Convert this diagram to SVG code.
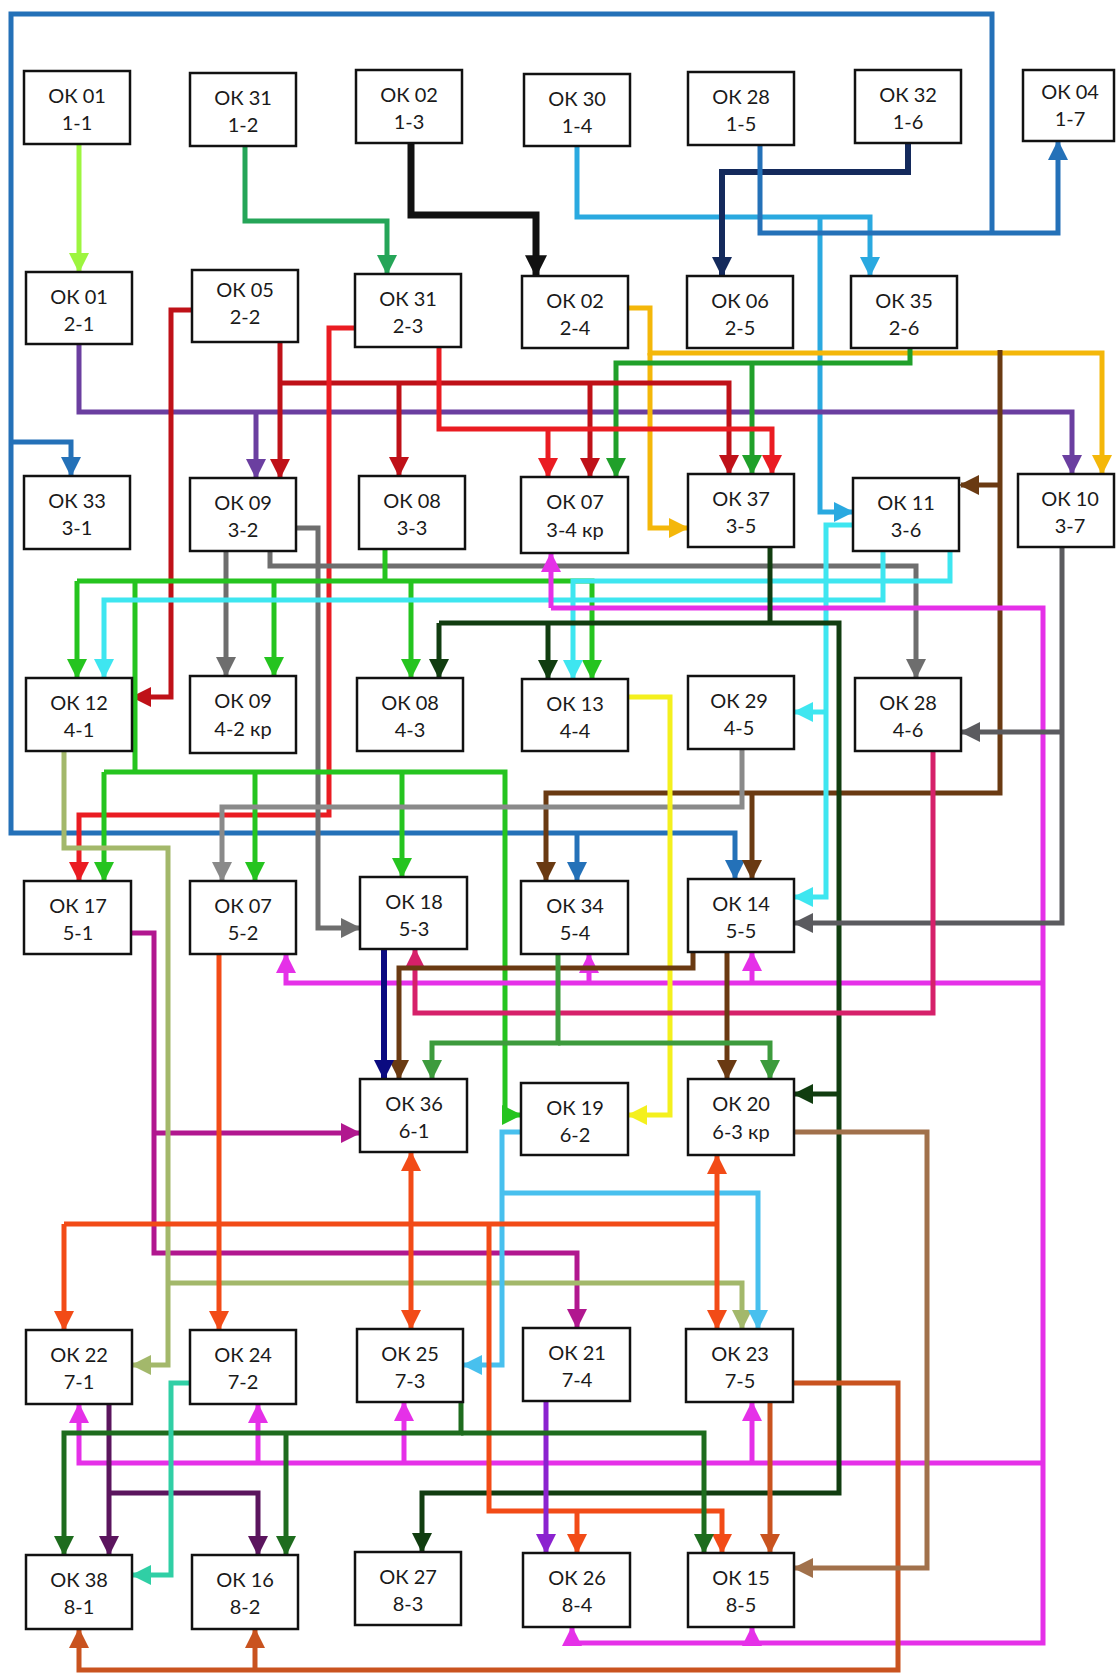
<svg xmlns="http://www.w3.org/2000/svg" width="1116" height="1673" viewBox="0 0 1116 1673">
<style>
.box{fill:#fff;stroke:#111;stroke-width:2.5}
text{font-family:Lato,"Noto Sans",sans-serif;font-size:20px;text-anchor:middle;fill:#1a1a1a}
#connectors path{fill:none;stroke-width:5}
.c1{stroke:#9df53f}.c1.a{marker-end:url(#m1)}
.c2{stroke:#25a558}.c2.a{marker-end:url(#m2)}
.c3{stroke:#111;stroke-width:7!important}.c3.a{marker-end:url(#m3)}
.c4{stroke:#142a5c;stroke-width:6!important}.c4.a{marker-end:url(#m4)}
.c5{stroke:#2aa9e0}.c5.a{marker-end:url(#m5)}
.c6{stroke:#2471b8}.c6.a{marker-end:url(#m6)}
.c7{stroke:#6b3fa0}.c7.a{marker-end:url(#m7)}
.c8{stroke:#bf1118}.c8.a{marker-end:url(#m8)}
.c9{stroke:#ea1c22}.c9.a{marker-end:url(#m9)}
.c10{stroke:#f4b70a}.c10.a{marker-end:url(#m10)}
.c11{stroke:#20a02a}.c11.a{marker-end:url(#m11)}
.c12{stroke:#6a3a12}.c12.a{marker-end:url(#m12)}
.c13{stroke:#6e6e6e}.c13.a{marker-end:url(#m13)}
.c14{stroke:#25c41f}.c14.a{marker-end:url(#m14)}
.c15{stroke:#3ee6f0}.c15.a{marker-end:url(#m15)}
.c16{stroke:#e530e8}.c16.a{marker-end:url(#m16)}
.c17{stroke:#d6216a}.c17.a{marker-end:url(#m17)}
.c18{stroke:#113d10}.c18.a{marker-end:url(#m18)}
.c19{stroke:#3d9b3d}.c19.a{marker-end:url(#m19)}
.c21{stroke:#8a8a8a}.c21.a{marker-end:url(#m21)}
.c22{stroke:#5b5b5f}.c22.a{marker-end:url(#m22)}
.c23{stroke:#f4f01e}.c23.a{marker-end:url(#m23)}
.c24{stroke:#0b0b80;stroke-width:6!important}.c24.a{marker-end:url(#m24)}
.c25{stroke:#b1178f}.c25.a{marker-end:url(#m25)}
.c26{stroke:#a3b86b}.c26.a{marker-end:url(#m26)}
.c27{stroke:#48c0ee}.c27.a{marker-end:url(#m27)}
.c28{stroke:#f24b17}.c28.a{marker-end:url(#m28)}
.c29{stroke:#8b22cf}.c29.a{marker-end:url(#m29)}
.c30{stroke:#5b155e}.c30.a{marker-end:url(#m30)}
.c31{stroke:#1e6c1e}.c31.a{marker-end:url(#m31)}
.c32{stroke:#30cfa5}.c32.a{marker-end:url(#m32)}
.c33{stroke:#c9531f}.c33.a{marker-end:url(#m33)}
.c34{stroke:#a1714b}.c34.a{marker-end:url(#m34)}
</style>
<defs>
<path id="ah" d="M0,0 L10,5 L0,10 Z"/>
<marker id="m1" viewBox="0 0 10 10" refX="9" refY="5" markerWidth="20" markerHeight="20" markerUnits="userSpaceOnUse" orient="auto"><use href="#ah" fill="#9df53f"/></marker>
<marker id="m2" viewBox="0 0 10 10" refX="9" refY="5" markerWidth="20" markerHeight="20" markerUnits="userSpaceOnUse" orient="auto"><use href="#ah" fill="#25a558"/></marker>
<marker id="m3" viewBox="0 0 10 10" refX="9" refY="5" markerWidth="22" markerHeight="22" markerUnits="userSpaceOnUse" orient="auto"><use href="#ah" fill="#111"/></marker>
<marker id="m4" viewBox="0 0 10 10" refX="9" refY="5" markerWidth="20" markerHeight="20" markerUnits="userSpaceOnUse" orient="auto"><use href="#ah" fill="#142a5c"/></marker>
<marker id="m5" viewBox="0 0 10 10" refX="9" refY="5" markerWidth="20" markerHeight="20" markerUnits="userSpaceOnUse" orient="auto"><use href="#ah" fill="#2aa9e0"/></marker>
<marker id="m6" viewBox="0 0 10 10" refX="9" refY="5" markerWidth="20" markerHeight="20" markerUnits="userSpaceOnUse" orient="auto"><use href="#ah" fill="#2471b8"/></marker>
<marker id="m7" viewBox="0 0 10 10" refX="9" refY="5" markerWidth="20" markerHeight="20" markerUnits="userSpaceOnUse" orient="auto"><use href="#ah" fill="#6b3fa0"/></marker>
<marker id="m8" viewBox="0 0 10 10" refX="9" refY="5" markerWidth="20" markerHeight="20" markerUnits="userSpaceOnUse" orient="auto"><use href="#ah" fill="#bf1118"/></marker>
<marker id="m9" viewBox="0 0 10 10" refX="9" refY="5" markerWidth="20" markerHeight="20" markerUnits="userSpaceOnUse" orient="auto"><use href="#ah" fill="#ea1c22"/></marker>
<marker id="m10" viewBox="0 0 10 10" refX="9" refY="5" markerWidth="20" markerHeight="20" markerUnits="userSpaceOnUse" orient="auto"><use href="#ah" fill="#f4b70a"/></marker>
<marker id="m11" viewBox="0 0 10 10" refX="9" refY="5" markerWidth="20" markerHeight="20" markerUnits="userSpaceOnUse" orient="auto"><use href="#ah" fill="#20a02a"/></marker>
<marker id="m12" viewBox="0 0 10 10" refX="9" refY="5" markerWidth="20" markerHeight="20" markerUnits="userSpaceOnUse" orient="auto"><use href="#ah" fill="#6a3a12"/></marker>
<marker id="m13" viewBox="0 0 10 10" refX="9" refY="5" markerWidth="20" markerHeight="20" markerUnits="userSpaceOnUse" orient="auto"><use href="#ah" fill="#6e6e6e"/></marker>
<marker id="m14" viewBox="0 0 10 10" refX="9" refY="5" markerWidth="20" markerHeight="20" markerUnits="userSpaceOnUse" orient="auto"><use href="#ah" fill="#25c41f"/></marker>
<marker id="m15" viewBox="0 0 10 10" refX="9" refY="5" markerWidth="20" markerHeight="20" markerUnits="userSpaceOnUse" orient="auto"><use href="#ah" fill="#3ee6f0"/></marker>
<marker id="m16" viewBox="0 0 10 10" refX="9" refY="5" markerWidth="20" markerHeight="20" markerUnits="userSpaceOnUse" orient="auto"><use href="#ah" fill="#e530e8"/></marker>
<marker id="m17" viewBox="0 0 10 10" refX="9" refY="5" markerWidth="20" markerHeight="20" markerUnits="userSpaceOnUse" orient="auto"><use href="#ah" fill="#d6216a"/></marker>
<marker id="m18" viewBox="0 0 10 10" refX="9" refY="5" markerWidth="20" markerHeight="20" markerUnits="userSpaceOnUse" orient="auto"><use href="#ah" fill="#113d10"/></marker>
<marker id="m19" viewBox="0 0 10 10" refX="9" refY="5" markerWidth="20" markerHeight="20" markerUnits="userSpaceOnUse" orient="auto"><use href="#ah" fill="#3d9b3d"/></marker>
<marker id="m21" viewBox="0 0 10 10" refX="9" refY="5" markerWidth="20" markerHeight="20" markerUnits="userSpaceOnUse" orient="auto"><use href="#ah" fill="#8a8a8a"/></marker>
<marker id="m22" viewBox="0 0 10 10" refX="9" refY="5" markerWidth="20" markerHeight="20" markerUnits="userSpaceOnUse" orient="auto"><use href="#ah" fill="#5b5b5f"/></marker>
<marker id="m23" viewBox="0 0 10 10" refX="9" refY="5" markerWidth="20" markerHeight="20" markerUnits="userSpaceOnUse" orient="auto"><use href="#ah" fill="#f4f01e"/></marker>
<marker id="m24" viewBox="0 0 10 10" refX="9" refY="5" markerWidth="20" markerHeight="20" markerUnits="userSpaceOnUse" orient="auto"><use href="#ah" fill="#0b0b80"/></marker>
<marker id="m25" viewBox="0 0 10 10" refX="9" refY="5" markerWidth="20" markerHeight="20" markerUnits="userSpaceOnUse" orient="auto"><use href="#ah" fill="#b1178f"/></marker>
<marker id="m26" viewBox="0 0 10 10" refX="9" refY="5" markerWidth="20" markerHeight="20" markerUnits="userSpaceOnUse" orient="auto"><use href="#ah" fill="#a3b86b"/></marker>
<marker id="m27" viewBox="0 0 10 10" refX="9" refY="5" markerWidth="20" markerHeight="20" markerUnits="userSpaceOnUse" orient="auto"><use href="#ah" fill="#48c0ee"/></marker>
<marker id="m28" viewBox="0 0 10 10" refX="9" refY="5" markerWidth="20" markerHeight="20" markerUnits="userSpaceOnUse" orient="auto"><use href="#ah" fill="#f24b17"/></marker>
<marker id="m29" viewBox="0 0 10 10" refX="9" refY="5" markerWidth="20" markerHeight="20" markerUnits="userSpaceOnUse" orient="auto"><use href="#ah" fill="#8b22cf"/></marker>
<marker id="m30" viewBox="0 0 10 10" refX="9" refY="5" markerWidth="20" markerHeight="20" markerUnits="userSpaceOnUse" orient="auto"><use href="#ah" fill="#5b155e"/></marker>
<marker id="m31" viewBox="0 0 10 10" refX="9" refY="5" markerWidth="20" markerHeight="20" markerUnits="userSpaceOnUse" orient="auto"><use href="#ah" fill="#1e6c1e"/></marker>
<marker id="m32" viewBox="0 0 10 10" refX="9" refY="5" markerWidth="20" markerHeight="20" markerUnits="userSpaceOnUse" orient="auto"><use href="#ah" fill="#30cfa5"/></marker>
<marker id="m33" viewBox="0 0 10 10" refX="9" refY="5" markerWidth="20" markerHeight="20" markerUnits="userSpaceOnUse" orient="auto"><use href="#ah" fill="#c9531f"/></marker>
<marker id="m34" viewBox="0 0 10 10" refX="9" refY="5" markerWidth="20" markerHeight="20" markerUnits="userSpaceOnUse" orient="auto"><use href="#ah" fill="#a1714b"/></marker>
</defs>
<rect width="1116" height="1673" fill="#fff"/>
<g id="connectors">
<path class="c1 a" d="M79,144 V271"/>
<path class="c2 a" d="M245,146 V221 H387 V273"/>
<path class="c3 a" d="M411,143 V215 H536 V275"/>
<path class="c5 a" d="M577,146 V217 H870 V275"/>
<path class="c5 a" d="M820,217 V512 H852"/>
<path class="c4 a" d="M908,143 V172 H722 V275"/>
<path class="c6 a" d="M760,145 V233 H1058 V142"/>
<path class="c6 a" d="M992,233 V14 H11 V833 H735 V878"/>
<path class="c6 a" d="M11,442 H71 V475"/>
<path class="c6 a" d="M577,833 V880"/>
<path class="c7 a" d="M79,344 V412 H1072 V473"/>
<path class="c7 a" d="M256,412 V477"/>
<path class="c10 a" d="M628,308 H650 V353 H1102 V473"/>
<path class="c10 a" d="M650,353 V528 H687"/>
<path class="c11 a" d="M910,348 V363 H616 V476"/>
<path class="c11 a" d="M752,363 V473"/>
<path class="c8 a" d="M280,342 V477"/>
<path class="c8 a" d="M280,383 H729 V473"/>
<path class="c8 a" d="M399,383 V475"/>
<path class="c8 a" d="M590,383 V476"/>
<path class="c8 a" d="M192,310 H171 V697 H133"/>
<path class="c9 a" d="M355,328 H329 V815 H79 V880"/>
<path class="c9 a" d="M439,347 V429 H772 V473"/>
<path class="c9 a" d="M548,429 V476"/>
<path class="c12 a" d="M1000,350 V793 H546 V880"/>
<path class="c12 a" d="M1000,485 H961"/>
<path class="c12 a" d="M752,793 V878"/>
<path class="c13 a" d="M296,528 H318 V928 H359"/>
<path class="c13 a" d="M226,551 V675"/>
<path class="c13 a" d="M270,551 V566 H916 V677"/>
<path class="c14" d="M385,549 V581"/>
<path class="c14 a" d="M77,581 H592 V678"/>
<path class="c14 a" d="M77,581 V677"/>
<path class="c14" d="M135,581 V772"/>
<path class="c14 a" d="M274,581 V675"/>
<path class="c14 a" d="M411,581 V677"/>
<path class="c14 a" d="M104,772 H505 V1115 H520"/>
<path class="c14 a" d="M104,772 V880"/>
<path class="c14 a" d="M255,772 V880"/>
<path class="c14 a" d="M402,772 V876"/>
<path class="c15 a" d="M883,551 V600 H104 V677"/>
<path class="c15 a" d="M950,551 V581 H573 V678"/>
<path class="c15 a" d="M853,525 H826 V897 H795"/>
<path class="c15 a" d="M826,712 H795"/>
<path class="c16 a" d="M551,608 V554"/>
<path class="c16 a" d="M551,608 H1043 V1643 H572 V1628"/>
<path class="c16 a" d="M1043,983 H286 V955"/>
<path class="c16 a" d="M589,983 V955"/>
<path class="c16 a" d="M752,983 V953"/>
<path class="c16 a" d="M1043,1463 H79 V1405"/>
<path class="c16 a" d="M258,1463 V1405"/>
<path class="c16 a" d="M404,1463 V1403"/>
<path class="c16 a" d="M752,1463 V1403"/>
<path class="c16 a" d="M752,1643 V1628"/>
<path class="c18" d="M770,547 V623"/>
<path class="c18 a" d="M439,623 H839 V1493 H422 V1551"/>
<path class="c18 a" d="M439,623 V677"/>
<path class="c18 a" d="M548,623 V678"/>
<path class="c18 a" d="M839,1094 H795"/>
<path class="c21 a" d="M742,749 V807 H222 V880"/>
<path class="c22 a" d="M1062,547 V923 H795"/>
<path class="c22 a" d="M1062,732 H962"/>
<path class="c23 a" d="M628,697 H670 V1115 H629"/>
<path class="c17 a" d="M933,751 V1013 H415 V950"/>
<path class="c12 a" d="M693,952 V968 H399 V1078"/>
<path class="c12 a" d="M727,952 V1078"/>
<path class="c19 a" d="M558,954 V1043 H432 V1078"/>
<path class="c19 a" d="M558,1043 H770 V1078"/>
<path class="c24 a" d="M384,949 V1078"/>
<path class="c25 a" d="M131,933 H154 V1253 H577 V1327"/>
<path class="c25 a" d="M154,1133 H359"/>
<path class="c26 a" d="M64,751 V848 H168 V1365 H133"/>
<path class="c26 a" d="M168,1283 H742 V1328"/>
<path class="c27 a" d="M521,1132 H502 V1365 H464"/>
<path class="c27 a" d="M502,1193 H758 V1328"/>
<path class="c28 a" d="M219,954 V1329"/>
<path class="c28" d="M64,1224 H717"/>
<path class="c28 a" d="M64,1224 V1329"/>
<path class="c28 a" d="M411,1224 V1153"/>
<path class="c28 a" d="M411,1224 V1328"/>
<path class="c28 a" d="M717,1224 V1156"/>
<path class="c28 a" d="M717,1224 V1328"/>
<path class="c28 a" d="M489,1224 V1511 H722 V1552"/>
<path class="c28 a" d="M577,1511 V1552"/>
<path class="c29 a" d="M546,1401 V1552"/>
<path class="c30 a" d="M109,1404 V1554"/>
<path class="c30 a" d="M109,1493 H258 V1554"/>
<path class="c31 a" d="M461,1402 V1433 H64 V1554"/>
<path class="c31 a" d="M461,1433 H704 V1552"/>
<path class="c31 a" d="M286,1433 V1554"/>
<path class="c32 a" d="M190,1383 H171 V1575 H133"/>
<path class="c33 a" d="M793,1383 H898 V1670 H79 V1630"/>
<path class="c33 a" d="M255,1670 V1630"/>
<path class="c33 a" d="M770,1402 V1552"/>
<path class="c34 a" d="M794,1132 H927 V1568 H795"/>
</g>
<g id="n-ok01-1-1"><rect class="box" x="24" y="71" width="106" height="73"/><text x="77" y="103">ОК 01</text><text x="77" y="130">1-1</text></g>
<g id="n-ok31-1-2"><rect class="box" x="190" y="73" width="106" height="73"/><text x="243" y="105">ОК 31</text><text x="243" y="132">1-2</text></g>
<g id="n-ok02-1-3"><rect class="box" x="356" y="70" width="106" height="73"/><text x="409" y="102">ОК 02</text><text x="409" y="129">1-3</text></g>
<g id="n-ok30-1-4"><rect class="box" x="524" y="74" width="106" height="72"/><text x="577" y="106">ОК 30</text><text x="577" y="133">1-4</text></g>
<g id="n-ok28-1-5"><rect class="box" x="688" y="72" width="106" height="73"/><text x="741" y="104">ОК 28</text><text x="741" y="131">1-5</text></g>
<g id="n-ok32-1-6"><rect class="box" x="855" y="70" width="106" height="73"/><text x="908" y="102">ОК 32</text><text x="908" y="129">1-6</text></g>
<g id="n-ok04-1-7"><rect class="box" x="1023" y="70" width="91" height="71"/><text x="1070" y="99">ОК 04</text><text x="1070" y="126">1-7</text></g>
<g id="n-ok01-2-1"><rect class="box" x="26" y="272" width="106" height="72"/><text x="79" y="304">ОК 01</text><text x="79" y="331">2-1</text></g>
<g id="n-ok05-2-2"><rect class="box" x="192" y="270" width="106" height="72"/><text x="245" y="297">ОК 05</text><text x="245" y="324">2-2</text></g>
<g id="n-ok31-2-3"><rect class="box" x="355" y="274" width="106" height="73"/><text x="408" y="306">ОК 31</text><text x="408" y="333">2-3</text></g>
<g id="n-ok02-2-4"><rect class="box" x="522" y="276" width="106" height="72"/><text x="575" y="308">ОК 02</text><text x="575" y="335">2-4</text></g>
<g id="n-ok06-2-5"><rect class="box" x="687" y="276" width="106" height="72"/><text x="740" y="308">ОК 06</text><text x="740" y="335">2-5</text></g>
<g id="n-ok35-2-6"><rect class="box" x="851" y="276" width="106" height="72"/><text x="904" y="308">ОК 35</text><text x="904" y="335">2-6</text></g>
<g id="n-ok33-3-1"><rect class="box" x="24" y="476" width="106" height="73"/><text x="77" y="508">ОК 33</text><text x="77" y="535">3-1</text></g>
<g id="n-ok09-3-2"><rect class="box" x="190" y="478" width="106" height="73"/><text x="243" y="510">ОК 09</text><text x="243" y="537">3-2</text></g>
<g id="n-ok08-3-3"><rect class="box" x="359" y="476" width="106" height="73"/><text x="412" y="508">ОК 08</text><text x="412" y="535">3-3</text></g>
<g id="n-ok07-3-4"><rect class="box" x="521" y="477" width="107" height="76"/><text x="575" y="509">ОК 07</text><text x="575" y="537">3-4 кр</text></g>
<g id="n-ok37-3-5"><rect class="box" x="688" y="474" width="106" height="73"/><text x="741" y="506">ОК 37</text><text x="741" y="533">3-5</text></g>
<g id="n-ok11-3-6"><rect class="box" x="853" y="478" width="106" height="73"/><text x="906" y="510">ОК 11</text><text x="906" y="537">3-6</text></g>
<g id="n-ok10-3-7"><rect class="box" x="1018" y="474" width="96" height="73"/><text x="1070" y="506">ОК 10</text><text x="1070" y="533">3-7</text></g>
<g id="n-ok12-4-1"><rect class="box" x="26" y="678" width="106" height="73"/><text x="79" y="710">ОК 12</text><text x="79" y="737">4-1</text></g>
<g id="n-ok09-4-2"><rect class="box" x="190" y="676" width="106" height="77"/><text x="243" y="708">ОК 09</text><text x="243" y="736">4-2 кр</text></g>
<g id="n-ok08-4-3"><rect class="box" x="357" y="678" width="106" height="73"/><text x="410" y="710">ОК 08</text><text x="410" y="737">4-3</text></g>
<g id="n-ok13-4-4"><rect class="box" x="522" y="679" width="106" height="72"/><text x="575" y="711">ОК 13</text><text x="575" y="738">4-4</text></g>
<g id="n-ok29-4-5"><rect class="box" x="688" y="676" width="106" height="73"/><text x="739" y="708">ОК 29</text><text x="739" y="735">4-5</text></g>
<g id="n-ok28-4-6"><rect class="box" x="855" y="678" width="106" height="73"/><text x="908" y="710">ОК 28</text><text x="908" y="737">4-6</text></g>
<g id="n-ok17-5-1"><rect class="box" x="24" y="881" width="107" height="73"/><text x="78" y="913">ОК 17</text><text x="78" y="940">5-1</text></g>
<g id="n-ok07-5-2"><rect class="box" x="190" y="881" width="106" height="73"/><text x="243" y="913">ОК 07</text><text x="243" y="940">5-2</text></g>
<g id="n-ok18-5-3"><rect class="box" x="360" y="877" width="107" height="72"/><text x="414" y="909">ОК 18</text><text x="414" y="936">5-3</text></g>
<g id="n-ok34-5-4"><rect class="box" x="521" y="881" width="107" height="73"/><text x="575" y="913">ОК 34</text><text x="575" y="940">5-4</text></g>
<g id="n-ok14-5-5"><rect class="box" x="688" y="879" width="106" height="73"/><text x="741" y="911">ОК 14</text><text x="741" y="938">5-5</text></g>
<g id="n-ok36-6-1"><rect class="box" x="360" y="1079" width="107" height="73"/><text x="414" y="1111">ОК 36</text><text x="414" y="1138">6-1</text></g>
<g id="n-ok19-6-2"><rect class="box" x="521" y="1083" width="107" height="72"/><text x="575" y="1115">ОК 19</text><text x="575" y="1142">6-2</text></g>
<g id="n-ok20-6-3"><rect class="box" x="688" y="1079" width="106" height="76"/><text x="741" y="1111">ОК 20</text><text x="741" y="1139">6-3 кр</text></g>
<g id="n-ok22-7-1"><rect class="box" x="26" y="1330" width="106" height="74"/><text x="79" y="1362">ОК 22</text><text x="79" y="1389">7-1</text></g>
<g id="n-ok24-7-2"><rect class="box" x="190" y="1330" width="106" height="74"/><text x="243" y="1362">ОК 24</text><text x="243" y="1389">7-2</text></g>
<g id="n-ok25-7-3"><rect class="box" x="357" y="1329" width="106" height="73"/><text x="410" y="1361">ОК 25</text><text x="410" y="1388">7-3</text></g>
<g id="n-ok21-7-4"><rect class="box" x="523" y="1328" width="107" height="73"/><text x="577" y="1360">ОК 21</text><text x="577" y="1387">7-4</text></g>
<g id="n-ok23-7-5"><rect class="box" x="686" y="1329" width="107" height="73"/><text x="740" y="1361">ОК 23</text><text x="740" y="1388">7-5</text></g>
<g id="n-ok38-8-1"><rect class="box" x="26" y="1555" width="106" height="74"/><text x="79" y="1587">ОК 38</text><text x="79" y="1614">8-1</text></g>
<g id="n-ok16-8-2"><rect class="box" x="192" y="1555" width="106" height="74"/><text x="245" y="1587">ОК 16</text><text x="245" y="1614">8-2</text></g>
<g id="n-ok27-8-3"><rect class="box" x="355" y="1552" width="106" height="73"/><text x="408" y="1584">ОК 27</text><text x="408" y="1611">8-3</text></g>
<g id="n-ok26-8-4"><rect class="box" x="523" y="1553" width="107" height="74"/><text x="577" y="1585">ОК 26</text><text x="577" y="1612">8-4</text></g>
<g id="n-ok15-8-5"><rect class="box" x="688" y="1553" width="106" height="74"/><text x="741" y="1585">ОК 15</text><text x="741" y="1612">8-5</text></g>
</svg>
